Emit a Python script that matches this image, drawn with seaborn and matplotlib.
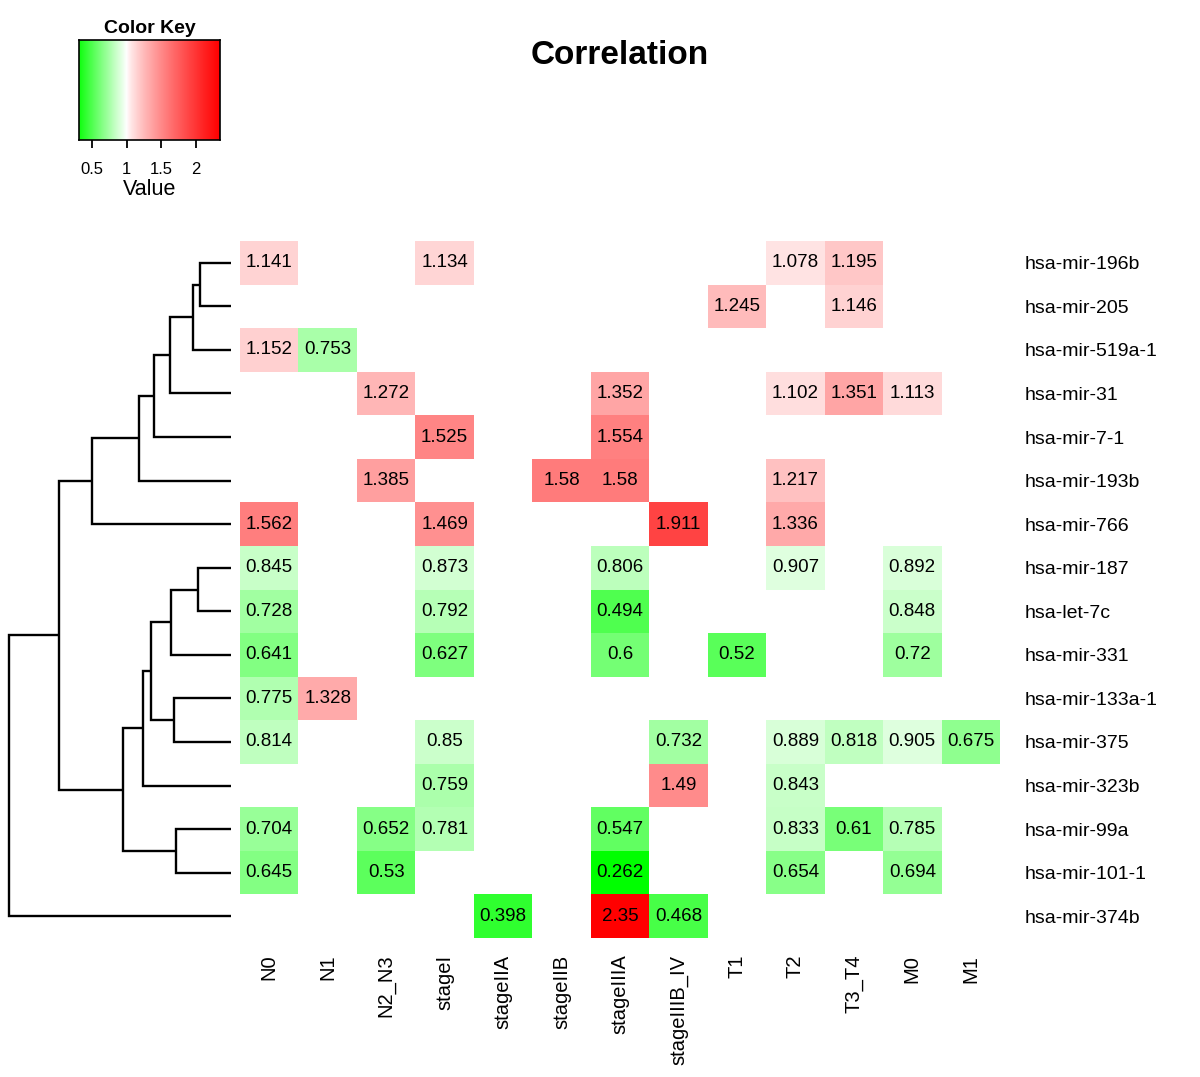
import numpy as np
import pandas as pd
import matplotlib
matplotlib.use("Agg")
import matplotlib.pyplot as plt
import seaborn as sns
from matplotlib.colors import ListedColormap

plt.rcParams['font.family'] = ['Liberation Sans', 'DejaVu Sans']

rows = ["hsa-mir-196b", "hsa-mir-205", "hsa-mir-519a-1", "hsa-mir-31", "hsa-mir-7-1",
        "hsa-mir-193b", "hsa-mir-766", "hsa-mir-187", "hsa-let-7c", "hsa-mir-331",
        "hsa-mir-133a-1", "hsa-mir-375", "hsa-mir-323b", "hsa-mir-99a", "hsa-mir-101-1",
        "hsa-mir-374b"]
cols = ["N0", "N1", "N2_N3", "stageI", "stageIIA", "stageIIB", "stageIIIA",
        "stageIIIB_IV", "T1", "T2", "T3_T4", "M0", "M1"]

nan = np.nan
#            N0     N1     N2_N3  stageI stIIA  stIIB  stIIIA stIIIB T1     T2     T3_T4  M0     M1
values = [
    [1.141, nan,   nan,   1.134, nan,   nan,   nan,   nan,   nan,   1.078, 1.195, nan,   nan],
    [nan,   nan,   nan,   nan,   nan,   nan,   nan,   nan,   1.245, nan,   1.146, nan,   nan],
    [1.152, 0.753, nan,   nan,   nan,   nan,   nan,   nan,   nan,   nan,   nan,   nan,   nan],
    [nan,   nan,   1.272, nan,   nan,   nan,   1.352, nan,   nan,   1.102, 1.351, 1.113, nan],
    [nan,   nan,   nan,   1.525, nan,   nan,   1.554, nan,   nan,   nan,   nan,   nan,   nan],
    [nan,   nan,   1.385, nan,   nan,   1.58,  1.58,  nan,   nan,   1.217, nan,   nan,   nan],
    [1.562, nan,   nan,   1.469, nan,   nan,   nan,   1.911, nan,   1.336, nan,   nan,   nan],
    [0.845, nan,   nan,   0.873, nan,   nan,   0.806, nan,   nan,   0.907, nan,   0.892, nan],
    [0.728, nan,   nan,   0.792, nan,   nan,   0.494, nan,   nan,   nan,   nan,   0.848, nan],
    [0.641, nan,   nan,   0.627, nan,   nan,   0.6,   nan,   0.52,  nan,   nan,   0.72,  nan],
    [0.775, 1.328, nan,   nan,   nan,   nan,   nan,   nan,   nan,   nan,   nan,   nan,   nan],
    [0.814, nan,   nan,   0.85,  nan,   nan,   nan,   0.732, nan,   0.889, 0.818, 0.905, 0.675],
    [nan,   nan,   nan,   0.759, nan,   nan,   nan,   1.49,  nan,   0.843, nan,   nan,   nan],
    [0.704, nan,   0.652, 0.781, nan,   nan,   0.547, nan,   nan,   0.833, 0.61,  0.785, nan],
    [0.645, nan,   0.53,  nan,   nan,   nan,   0.262, nan,   nan,   0.654, nan,   0.694, nan],
    [nan,   nan,   nan,   nan,   0.398, nan,   2.35,  0.468, nan,   nan,   nan,   nan,   nan],
]

# dendrogram merges: (child_a, child_b, height); ids >= 16 are earlier merges
merges = [
    (0, 1, 31), (16, 2, 38), (17, 3, 61), (18, 4, 77), (19, 5, 92), (20, 6, 139),
    (7, 8, 33), (22, 9, 60), (10, 11, 57), (23, 24, 80), (25, 12, 88),
    (13, 14, 55), (26, 27, 108), (21, 28, 172), (29, 15, 222),
]

key_ticks = [0.5, 1, 1.5, 2]
key_tick_labels = ["0.5", "1", "1.5", "2"]

df = pd.DataFrame(values, index=rows, columns=cols)
vmin, vmax = 0.262, 2.35

# green -> white (at 1) -> red colour ramp
grid = np.linspace(vmin, vmax, 512)
cols_rgb = []
for v in grid:
    if v < 1:
        t = (1 - v) / (1 - vmin)
        cols_rgb.append((1 - t, 1.0, 1 - t))
    else:
        t = ((v - 1) / (vmax - 1)) ** 0.78
        cols_rgb.append((1.0, 1 - t, 1 - t))
cmap = ListedColormap(cols_rgb)

W, H = 1200, 1077
fig = plt.figure(figsize=(W / 100, H / 100), dpi=100)

def ax_px(x0, y0, x1, y1):
    return fig.add_axes([x0 / W, 1 - y1 / H, (x1 - x0) / W, (y1 - y0) / H])

# heatmap
ax = ax_px(240, 241, 1000, 938)
sns.heatmap(df, ax=ax, cmap=cmap, vmin=vmin, vmax=vmax, annot=True, fmt="g",
            cbar=False, annot_kws={"color": "black", "fontsize": 13.5})
ax.yaxis.tick_right()
ax.set_yticks(np.arange(len(rows)) + 0.5)
ax.set_yticklabels(rows, rotation=0, ha="left", fontsize=14)
ax.set_xticks(np.arange(len(cols)) + 0.5)
ax.set_xticklabels(cols, rotation=90, fontsize=14.5)
ax.tick_params(axis="y", length=0, pad=18)
ax.tick_params(axis="x", length=0, pad=12)
ax.set_xlabel("")
ax.set_ylabel("")

# dendrogram
dax = ax_px(0, 241, 240, 938)
n = len(rows)
pos = {i: i + 0.5 for i in range(n)}
hgt = {i: 0.0 for i in range(n)}
for k, (a, b, h) in enumerate(merges):
    ya, yb = pos[a], pos[b]
    dax.plot([hgt[a], h, h, hgt[b]], [ya, ya, yb, yb], color="black", lw=1.7,
             solid_joinstyle="miter", solid_capstyle="butt")
    pos[n + k] = (ya + yb) / 2
    hgt[n + k] = h
dax.set_xlim(231, -9)
dax.set_ylim(n, 0)
dax.axis("off")

# color key
klo, khi = 0.31, 2.35
kax = ax_px(79, 40, 220, 140)
grad = np.linspace(klo, khi, 256)[None, :]
kax.imshow(grad, cmap=cmap, vmin=vmin, vmax=vmax, aspect="auto",
           extent=[klo, khi, 0, 1])
kax.set_xlim(klo, khi)
kax.set_yticks([])
kax.set_xticks(key_ticks)
kax.set_xticklabels(key_tick_labels, fontsize=12)
kax.tick_params(axis="x", length=6, width=1.3, pad=10)
kax.set_xlabel("Value", fontsize=15.5, labelpad=1)
kax.set_title("Color Key", fontsize=14, fontweight="bold", pad=5)
for s in kax.spines.values():
    s.set_linewidth(1.2)

fig.text(620 / W, 1 - 56 / H, "Correlation", ha="center", va="center",
         fontsize=24, fontweight="bold")

fig.savefig("out.png", dpi=100)
